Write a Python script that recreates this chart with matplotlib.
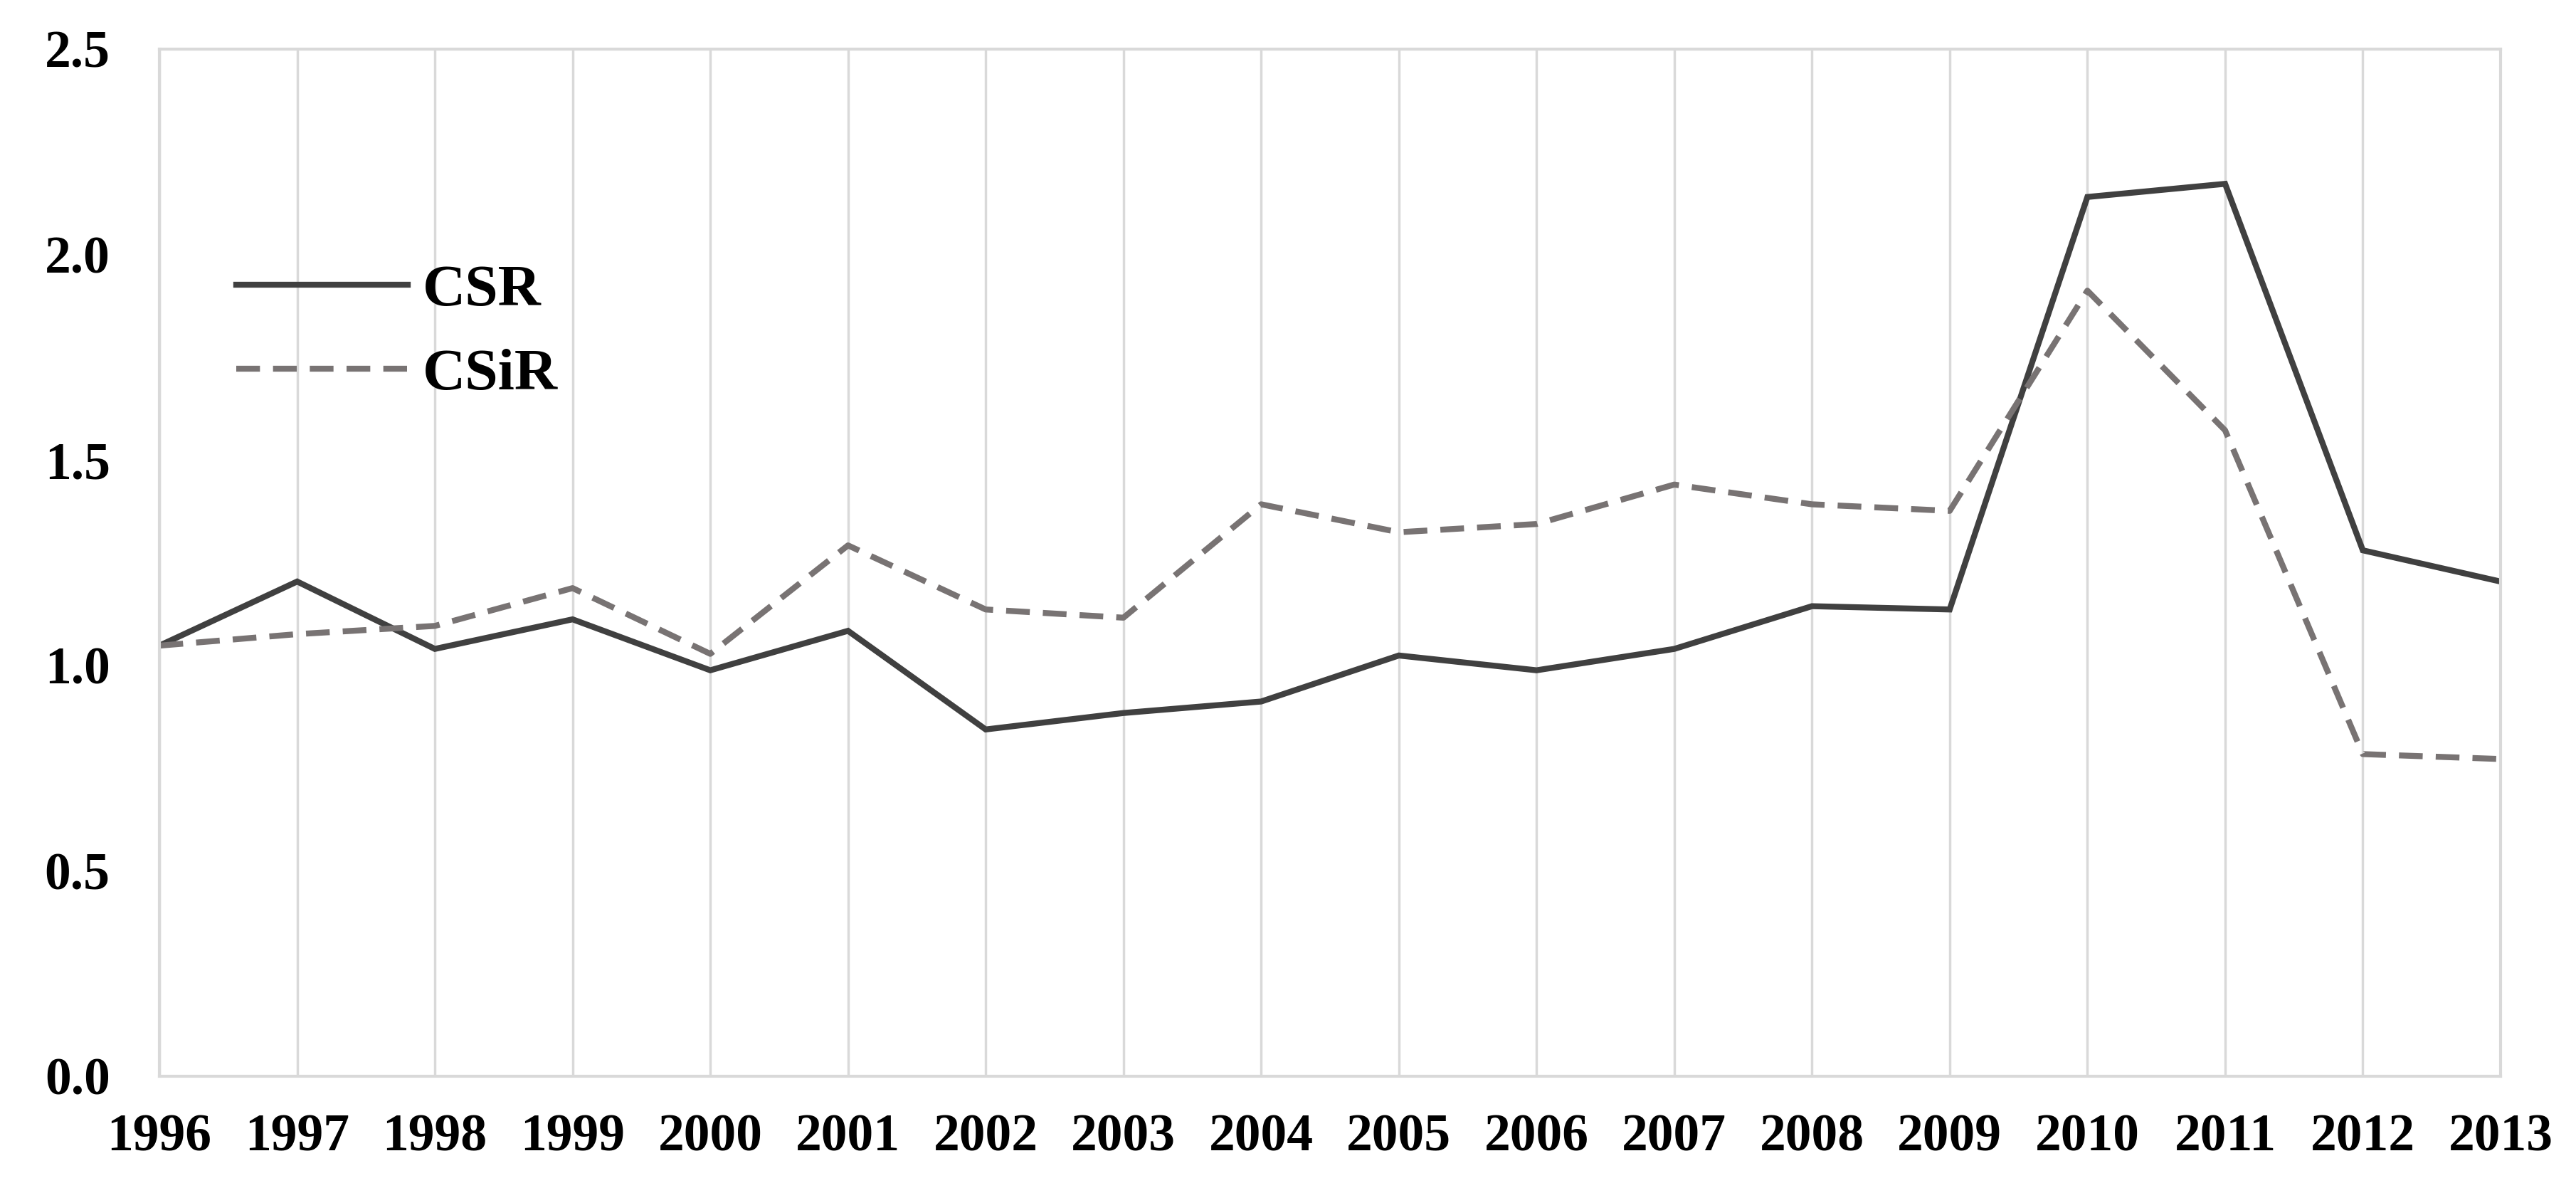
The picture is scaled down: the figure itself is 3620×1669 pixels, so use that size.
import matplotlib
matplotlib.use("Agg")
import matplotlib.pyplot as plt

years = [1996, 1997, 1998, 1999, 2000, 2001, 2002, 2003, 2004, 2005,
         2006, 2007, 2008, 2009, 2010, 2011, 2012, 2013]
csr = [1.048, 1.204, 1.040, 1.112, 0.988, 1.084, 0.844, 0.884, 0.912, 1.024,
       0.988, 1.040, 1.144, 1.136, 2.140, 2.172, 1.280, 1.204]
csir = [1.048, 1.076, 1.096, 1.188, 1.028, 1.292, 1.136, 1.116, 1.392, 1.324,
        1.344, 1.440, 1.392, 1.376, 1.912, 1.572, 0.784, 0.772]
yticks = [0.0, 0.5, 1.0, 1.5, 2.0, 2.5]

plt.rcParams['font.family'] = ['Liberation Serif', 'DejaVu Serif']
plt.rcParams['font.weight'] = 'bold'

fig = plt.figure(figsize=(36.2, 16.69), dpi=100)
ax = fig.add_axes([0.0619, 0.0941, 0.9707 - 0.0619, 0.9587 - 0.0941])

ax.plot(years, csr, color='#404040', lw=6, solid_joinstyle='miter', label='CSR')
ax.plot(years, csir, color='#787373', lw=6, ls=(0, (4.0, 2.2)), label='CSiR')

ax.set_xlim(1996, 2013)
ax.set_ylim(0, 2.5)
ax.set_xticks(years)
ax.set_xticklabels([str(y) for y in years])
ax.set_yticks(yticks)
ax.set_yticklabels([f"{v:.1f}" for v in yticks])
ax.tick_params(axis='both', length=0, labelsize=53, colors='black')
ax.tick_params(axis='x', pad=38)
ax.tick_params(axis='y', pad=50)
for lab in ax.get_xticklabels() + ax.get_yticklabels():
    lab.set_fontweight('bold')

ax.grid(axis='x', color='#d9d9d9', lw=2.5)
ax.set_axisbelow(True)
for s in ax.spines.values():
    s.set_color('#d9d9d9')
    s.set_linewidth(3)

leg = ax.legend(loc='upper left', bbox_to_anchor=(0.020, 0.82), frameon=False,
                handlelength=2.9, handletextpad=0.25, labelspacing=0.5,
                borderpad=0, prop={'weight': 'bold', 'size': 60})

fig.savefig('out.png', dpi=100, facecolor='white')
